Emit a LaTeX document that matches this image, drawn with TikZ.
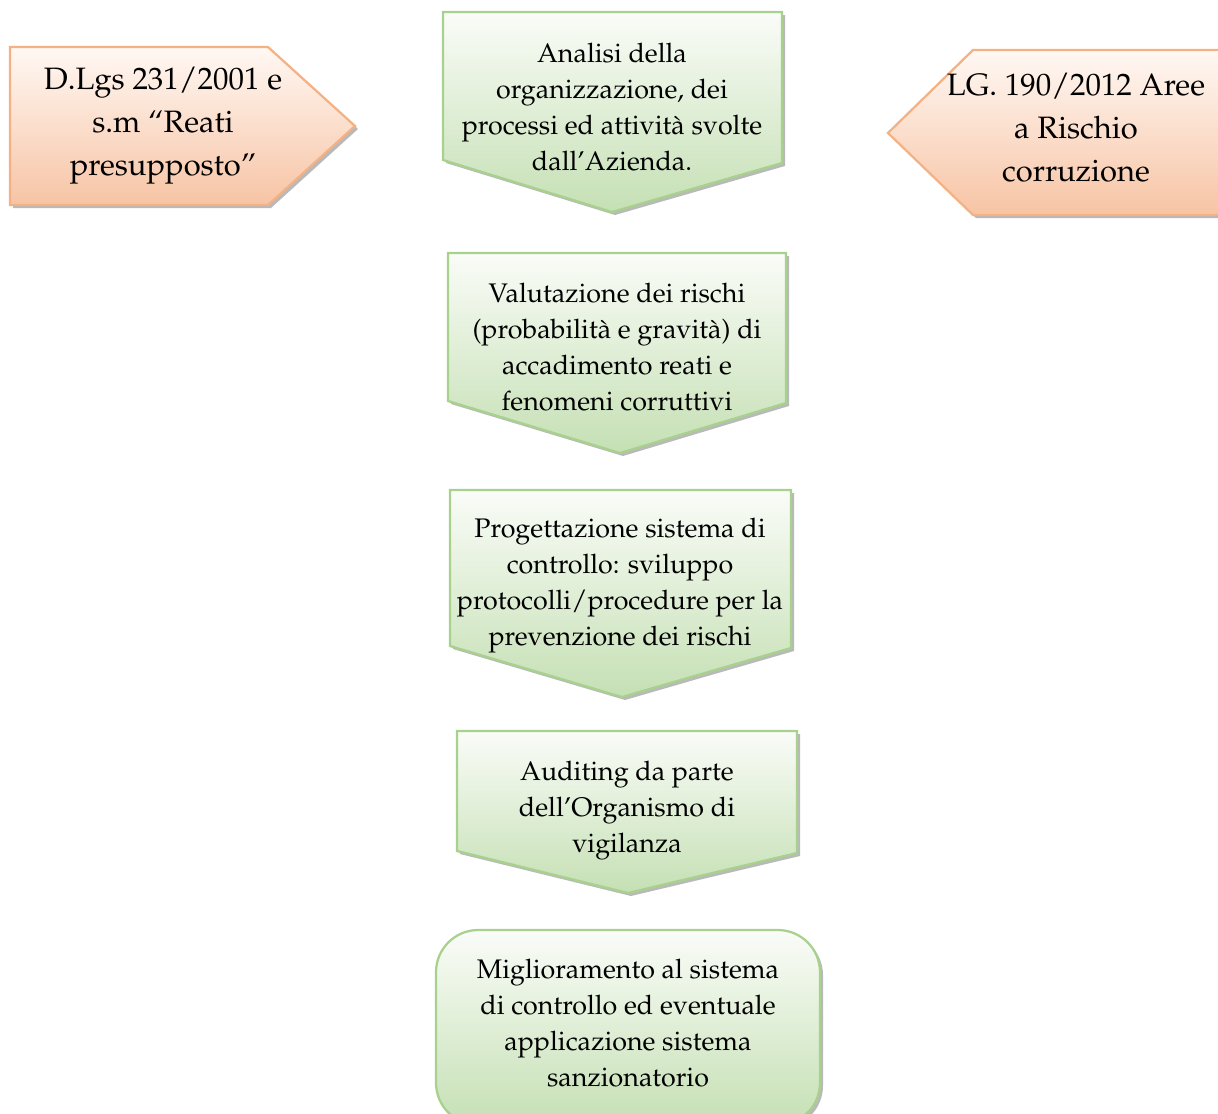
\documentclass[tikz,border=0pt]{standalone}
\usepackage[T1]{fontenc}
\usepackage{mathpazo}
\usetikzlibrary{positioning}

\definecolor{boxgreen}{RGB}{169,209,142}
\definecolor{greentop}{RGB}{250,252,248}
\definecolor{greenbot}{RGB}{197,224,180}
\definecolor{boxorange}{RGB}{244,177,131}
\definecolor{orangetop}{RGB}{255,248,244}
\definecolor{orangebot}{RGB}{247,196,164}

\begin{document}
\begin{tikzpicture}[
            x=0.025cm, y=-0.025cm, % one unit is one pixel of the page
            greenbox/.style={draw=boxgreen, line width=1.6pt, top color=greentop, bottom color=greenbot},
            orangebox/.style={draw=boxorange, line width=1.6pt, top color=orangetop, bottom color=orangebot},
            shadowbox/.style={fill=gray!55, shift={(3,3)}},
            greentext/.style={align=center, inner sep=0pt, font=\fontsize{19.1}{25.6}\selectfont},
            orangetext/.style={align=center, inner sep=0pt, font=\fontsize{22}{30.6}\selectfont}
        ]
        \useasboundingbox (0,0) rectangle (1218,1113);

        % Shapes (shadow first)
        \fill[shadowbox] (10,47) -- (268,47) -- (355,126) -- (268,205) -- (10,205) -- cycle;
        \path[orangebox] (10,47) -- (268,47) -- (355,126) -- (268,205) -- (10,205) -- cycle;

        \fill[shadowbox] (888,133) -- (973,50) -- (1230,50) -- (1230,215) -- (973,215) -- cycle;
        \path[orangebox] (888,133) -- (973,50) -- (1230,50) -- (1230,215) -- (973,215) -- cycle;

        \fill[shadowbox] (443,12) -- (782,12) -- (782,163) -- (612,212) -- (443,160) -- cycle;
        \path[greenbox] (443,12) -- (782,12) -- (782,163) -- (612,212) -- (443,160) -- cycle;

        \fill[shadowbox] (448,253) -- (786,253) -- (786,403) -- (620,453) -- (448,401) -- cycle;
        \path[greenbox] (448,253) -- (786,253) -- (786,403) -- (620,453) -- (448,401) -- cycle;

        \fill[shadowbox] (450,490) -- (791,490) -- (791,648) -- (622,697) -- (450,646) -- cycle;
        \path[greenbox] (450,490) -- (791,490) -- (791,648) -- (622,697) -- (450,646) -- cycle;

        \fill[shadowbox] (457,731) -- (797,731) -- (797,853) -- (628,893) -- (457,851) -- cycle;
        \path[greenbox] (457,731) -- (797,731) -- (797,853) -- (628,893) -- (457,851) -- cycle;

        \fill[shadowbox, rounded corners=30] (436,930) rectangle (820,1125);
        \path[greenbox, rounded corners=30] (436,930) rectangle (820,1125);

        % Texts
        \node[orangetext] (reati) at (163,126) {D.Lgs 231/2001 e\\s.m ``Reati\\presupposto''};
        \node[orangetext] (corruzione) at (1076,128) {LG. 190/2012 Aree\\a Rischio\\corruzione};

        \node[greentext] (analisi) at (612,107) {Analisi della\\organizzazione, dei\\processi ed attivit\`a svolte\\dall'Azienda.};
        \node[greentext] (valutazione) at (617,347) {Valutazione dei rischi\\(probabilit\`a e gravit\`a) di\\accadimento reati e\\fenomeni corruttivi};
        \node[greentext] (progettazione) at (620,586) {Progettazione sistema di\\controllo: sviluppo\\protocolli/procedure per la\\prevenzione dei rischi};
        \node[greentext] (auditing) at (627,811) {Auditing da parte\\dell'Organismo di\\vigilanza};
        \node[greentext] (miglioramento) at (628,1023) {Miglioramento al sistema\\di controllo ed eventuale\\applicazione sistema\\sanzionatorio};

\end{tikzpicture}
\end{document}
